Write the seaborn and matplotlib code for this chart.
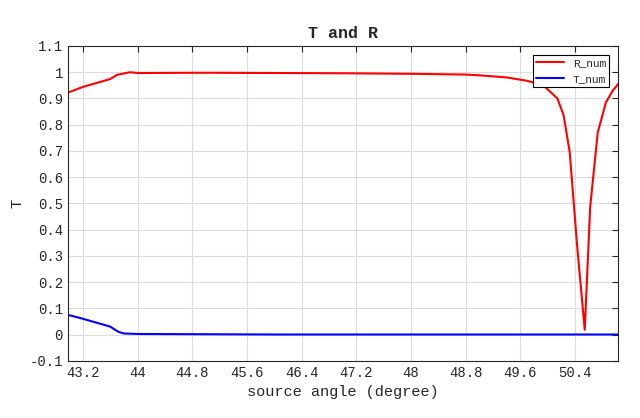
import numpy as np
import pandas as pd
import matplotlib
matplotlib.use('Agg')
import matplotlib.pyplot as plt
import seaborn as sns

# values
angle_R = [42.98, 43.2, 43.6, 43.7, 43.89, 44.0, 45.0, 46.0, 47.0, 48.0, 48.8, 49.01, 49.4, 49.7, 49.93,
           50.14, 50.23, 50.32, 50.43, 50.54, 50.62, 50.73, 50.85, 50.95, 51.03]
R_num = [0.922, 0.944, 0.974, 0.99, 1.0, 0.997, 0.998, 0.997, 0.996, 0.994, 0.991, 0.988, 0.98, 0.967, 0.951,
         0.90, 0.837, 0.696, 0.334, 0.018, 0.487, 0.77, 0.885, 0.93, 0.955]
angle_T = [42.98, 43.2, 43.6, 43.72, 43.8, 44.0, 45.0, 46.0, 47.0, 48.0, 49.0, 50.0, 51.03]
T_num = [0.075, 0.06, 0.03, 0.01, 0.004, 0.002, 0.001, 0.0, 0.0, 0.0, 0.0, 0.0, 0.0]

sns.set_style("whitegrid")
plt.rcParams['font.family'] = ['Liberation Mono', 'DejaVu Sans Mono']

fig, ax = plt.subplots(figsize=(6.4, 4.18), dpi=100)
fig.subplots_adjust(left=0.106, right=0.966, top=0.89, bottom=0.137)
sns.lineplot(x=angle_R, y=R_num, color='red', lw=1.5, label='R_num', ax=ax)
sns.lineplot(x=angle_T, y=T_num, color='blue', lw=1.5, label='T_num', ax=ax)

ax.set_xlim(42.98, 51.03)
ax.set_ylim(-0.1, 1.1)
ax.set_xticks(np.arange(43.2, 50.5, 0.8))
ax.set_xticklabels(['43.2', '44', '44.8', '45.6', '46.4', '47.2', '48', '48.8', '49.6', '50.4'])
ax.set_yticks(np.arange(-0.1, 1.11, 0.1))
ax.set_yticklabels(['-0.1', '0', '0.1', '0.2', '0.3', '0.4', '0.5', '0.6', '0.7', '0.8', '0.9', '1', '1.1'])
ax.grid(True, color='#dcdcdc', lw=0.8)
for s in ax.spines.values():
    s.set_color('#262626')
    s.set_linewidth(0.8)
ax.tick_params(direction='in', length=4, labelsize=10, colors='#262626', top=True, right=True)
ax.set_xlabel('source angle (degree)', fontsize=11)
ax.set_ylabel('T', fontsize=11)
ax.set_title('T and R', fontsize=12, fontweight='bold')
leg = ax.legend(loc='upper right', fontsize=8, fancybox=False, edgecolor='black', framealpha=1,
                borderpad=0.3, handlelength=2.5, borderaxespad=0.8)
leg.get_frame().set_linewidth(0.8)
plt.savefig('out.png')
